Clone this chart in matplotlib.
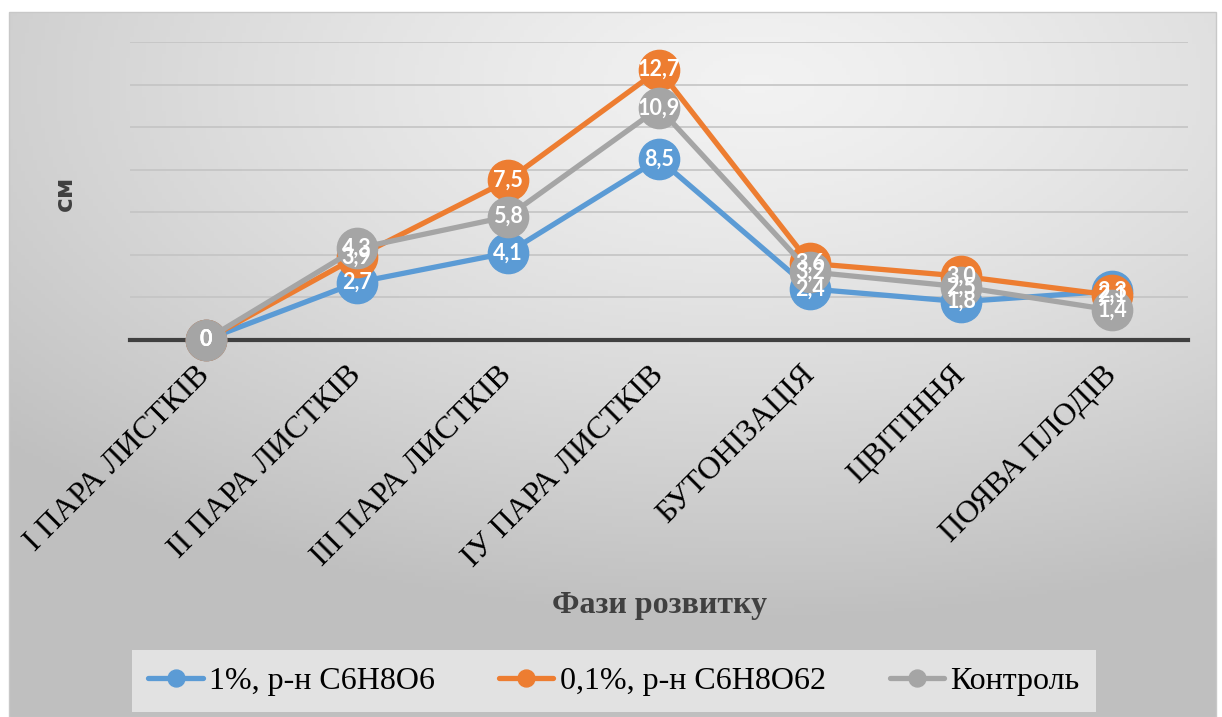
import numpy as np
import matplotlib.pyplot as plt

phases = ["I ПАРА ЛИСТКІВ", "II ПАРА ЛИСТКІВ", "III ПАРА ЛИСТКІВ", "IУ ПАРА ЛИСТКІВ",
          "БУТОНІЗАЦІЯ", "ЦВІТІННЯ", "ПОЯВА ПЛОДІВ"]
s1 = [0, 2.7, 4.1, 8.5, 2.4, 1.8, 2.3]
s2 = [0, 3.9, 7.5, 12.7, 3.6, 3.0, 2.1]
s3 = [0, 4.3, 5.8, 10.9, 3.2, 2.5, 1.4]
names = ["1%, р-н С6Н8О6", "0,1%, р-н С6Н8О62", "Контроль"]
colors = ["#5b9bd5", "#ed7d31", "#a5a5a5"]

W, H = 1222, 717
fig = plt.figure(figsize=(W / 100, H / 100), dpi=100)
fig.patch.set_facecolor("white")

# gradient chart background
bg = fig.add_axes([9 / W, 0, (1216 - 9) / W, (H - 12) / H], zorder=-5)
yy, xx = np.mgrid[0:1:200j, 0:1:300j]
d = np.sqrt(((xx - 0.62) / 1.0) ** 2 + ((yy - 0.1) / 0.9) ** 2)
g = 0.95 - 0.20 * np.clip(d / 0.85, 0, 1) ** 1.3
bg.imshow(np.dstack([g, g, g]), aspect="auto", extent=[0, 1, 1, 0])
bg.set_axis_off()
fig.add_artist(plt.Rectangle((9 / W, 0), (1216 - 9) / W, (H - 12) / H, transform=fig.transFigure,
                             fill=False, edgecolor="#c8c8c8", lw=1))

ax = fig.add_axes([130 / W, (H - 340) / H, (1188 - 130) / W, (340 - 42) / H])
ax.patch.set_alpha(0)
x = np.arange(len(phases))
data = [s1, s2, s3]
for vals, c, n in zip(data, colors, names):
    ax.plot(x, vals, color=c, lw=3.8, marker="o", ms=29, mfc=c, mec=c, label=n, zorder=3,
            solid_capstyle="round", clip_on=False)
# data labels on top of all series
for vals in data:
    for xi, v in zip(x, vals):
        lab = "0" if v == 0 else f"{v:.1f}".replace(".", ",")
        ax.text(xi, v, lab, ha="center", va="center", color="white",
                fontsize=15.5, fontweight="bold", family="Lato", zorder=5)

ax.set_xlim(-0.5, len(phases) - 0.5)
ax.set_ylim(0, 14)
ax.set_yticks(np.arange(0, 15, 2))
ax.yaxis.grid(True, color="#c4c4c4", lw=1.2)
ax.set_axisbelow(True)
ax.tick_params(axis="y", left=False, labelleft=False)
ax.tick_params(axis="x", length=0, pad=22)
ax.set_xticks(x)
ax.set_xticklabels(phases, rotation=45, ha="right", va="center", rotation_mode="anchor",
                   family="Liberation Serif", fontsize=23, color="black")
for s in ["left", "right", "top"]:
    ax.spines[s].set_visible(False)
ax.spines["bottom"].set_color("#404040")
ax.spines["bottom"].set_linewidth(3)
ax.spines["bottom"].set_zorder(2)

fig.text(660 / W, (H - 605) / H, "Фази розвитку", ha="center", va="center",
         family="Liberation Serif", fontweight="bold", fontsize=23, color="#404040")
fig.text(65 / W, (H - 193) / H, "см", ha="center", va="center", rotation=90,
         family="DejaVu Sans", fontweight="bold", fontsize=18, color="#404040")

leg = fig.legend(loc="center", bbox_to_anchor=(614 / W, (H - 681) / H), ncol=3,
                 prop={"family": "Liberation Serif", "size": 23}, frameon=True,
                 handlelength=1.7, columnspacing=2.0, handletextpad=0.2, borderpad=0.5,
                 markerscale=0.42)
leg.get_frame().set_facecolor("#e2e2e2")
leg.get_frame().set_edgecolor("none")
leg.get_frame().set_alpha(1)
leg.get_frame().set_boxstyle("square", pad=0)

fig.savefig("out.png", dpi=100)
